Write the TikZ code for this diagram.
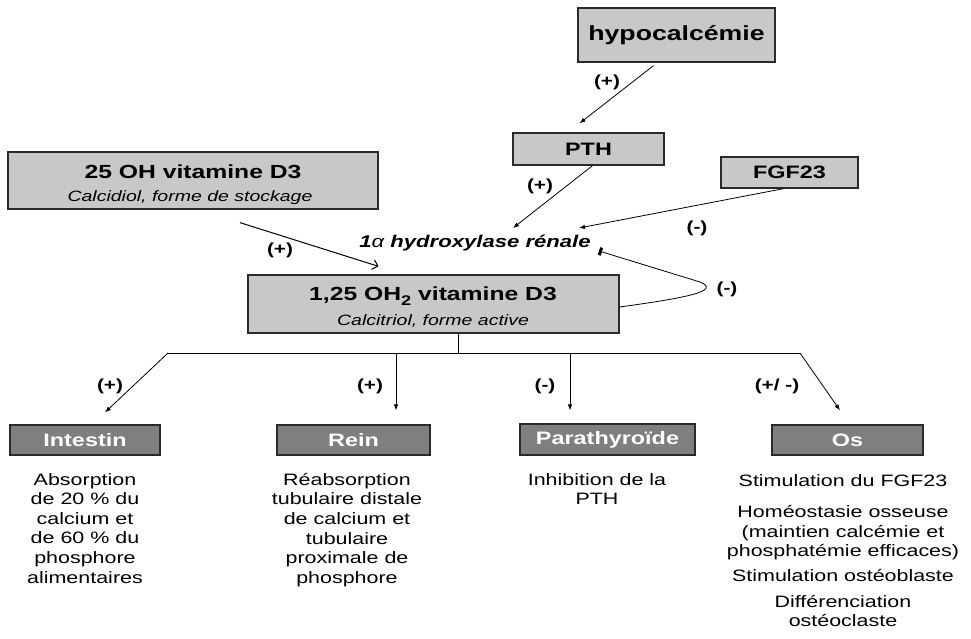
\documentclass[tikz,border=0pt]{standalone}
\usepackage{fontspec}
\setmainfont{Liberation Sans}[FakeStretch=1.3]
\usetikzlibrary{arrows.meta,calc}
\definecolor{boxlight}{HTML}{C8C8C8}
\definecolor{boxdark}{HTML}{7F7F7F}
\definecolor{edge}{HTML}{2A2A2A}
\begin{document}
\begin{tikzpicture}[x=1pt,y=-1pt,
  lightbox/.style={draw=edge, line width=1.3pt, fill=boxlight, inner sep=0pt},
  darkbox/.style={draw=edge, line width=1.2pt, fill=boxdark, inner sep=0pt, text=white,
    font=\fontsize{18}{20}\selectfont\bfseries, minimum height=30pt},
  ttl/.style={font=\fontsize{19}{22}\selectfont\bfseries, inner sep=0pt},
  subtxt/.style={font=\fontsize{15}{18}\selectfont\itshape, inner sep=0pt},
  sgn/.style={font=\fontsize{16}{18}\selectfont\bfseries, inner sep=0pt},
  arr/.style={-{Latex[length=6pt,width=4.5pt]}, line width=0.8pt},
  bottxt/.style={font=\fontsize{16.5}{19.6}\selectfont, align=center, inner sep=0pt}]
\useasboundingbox (0,0) rectangle (971,639);

% top boxes
\node[lightbox, minimum width=197pt, minimum height=54pt,
  font=\fontsize{20.5}{23}\selectfont\bfseries] (hypo) at (676.5,35) {hypocalcémie};
\node[lightbox, minimum width=151pt, minimum height=32pt,
  font=\fontsize{18}{20}\selectfont\bfseries] (pth) at (588.5,149) {PTH};
\node[lightbox, minimum width=137pt, minimum height=31pt,
  font=\fontsize{18}{20}\selectfont\bfseries] (fgf) at (789.5,172.5) {FGF23};

\node[lightbox, minimum width=370pt, minimum height=57pt] (b25) at (193,180.5) {};
\node[ttl] (b25t) at (193,172) {25 OH vitamine D3};
\node[subtxt] (b25s) at (190,198) {Calcidiol, forme de stockage};

\node[lightbox, minimum width=371pt, minimum height=58pt] (b125) at (433.5,304) {};
\node[ttl] (b125t) at (433,296) {1,25 OH\raisebox{-4.5pt}{\fontsize{14}{14}\selectfont 2} vitamine D3};
\node[subtxt] (b125s) at (433,321) {Calcitriol, forme active};

\node[font=\fontsize{17}{20}\selectfont\bfseries\itshape, inner sep=0pt] (enz) at (475,243)
  {1{\mdseries α} hydroxylase rénale};

% coordinates
\coordinate (e1) at (513,228);
\coordinate (e2) at (579,228);
\coordinate (e3) at (599,251);
\coordinate (bend) at (700,282);

% arrows top
\draw[arr] ([xshift=-23pt,yshift=-3pt]hypo.south) -- ([xshift=-9pt,yshift=9pt]pth.north);
\draw[arr] ([xshift=4pt]pth.south) -- (e1);
\draw[arr] ([xshift=-6pt]fgf.south) -- (e2);
\draw[-{Straight Barb[length=5pt,width=10pt]}, line width=1pt]
  ([xshift=47pt,yshift=-13pt]b25.south) -- ([xshift=-55pt,yshift=8pt]b125.north);
\draw[-{Bar[width=8pt,line width=3pt]}, line width=0.8pt]
  ([yshift=-3pt]b125.east) .. controls (685,298) and (722,291) .. (bend) -- (e3);

% signs top
\node[sgn] (s1) at (607,82) {(+)};
\node[sgn] (s2) at (540,186) {(+)};
\node[sgn] (s3) at (697,228) {(-)};
\node[sgn] (s4) at (280,250) {(+)};
\node[sgn] (s5) at (727,289) {(-)};

% bottom boxes
\node[darkbox, minimum width=150pt] (int) at (85,440) {Intestin};
\node[darkbox, minimum width=153pt] (rein) at (353.5,440) {Rein};
\node[darkbox, minimum width=175pt, minimum height=31pt] (para) at (607.5,439.5) {Parathyroïde};
\node[darkbox, minimum width=151pt] (os) at (847.5,440) {Os};

% tree
\coordinate (tr) at (458,353);
\coordinate (hl) at (168,353);
\coordinate (hr) at (800,353);
\coordinate (hre) at (396,353);
\coordinate (hpa) at (570,353);
\draw[line width=0.8pt] ([xshift=24.5pt]b125.south) -- (tr);
\draw[line width=0.8pt] (hl) -- (hr);
\draw[arr] (hl) -- ([xshift=20pt,yshift=12pt]int.north);
\draw[arr] (hre) -- ([xshift=42.5pt,yshift=14pt]rein.north);
\draw[arr] (hpa) -- ([xshift=-37.5pt,yshift=13pt]para.north);
\draw[arr] (hr) -- ([xshift=-7.5pt,yshift=14pt]os.north);

\node[sgn] (s6) at (110,386) {(+)};
\node[sgn] (s7) at (370,386) {(+)};
\node[sgn] (s8) at (545,386) {(-)};
\node[sgn] (s9) at (777,386) {(+/ -)};

% bottom texts
\node[bottxt, anchor=north] (tint) at (85,473)
  {Absorption\\de 20 \% du\\calcium et\\de 60 \% du\\phosphore\\alimentaires};
\node[bottxt, anchor=north] (trein) at (347,473)
  {Réabsorption\\tubulaire distale\\de calcium et\\tubulaire\\proximale de\\phosphore};
\node[bottxt, anchor=north] (tpara) at (597,473) {Inhibition de la\\PTH};
\node[bottxt] (tos1) at (843,481) {Stimulation du FGF23};
\node[bottxt] (tos2) at (843,533) {Homéostasie osseuse\\(maintien calcémie et\\phosphatémie efficaces)};
\node[bottxt] (tos3) at (843,576) {Stimulation ostéoblaste};
\node[bottxt] (tos4) at (843,611) {Différenciation\\ostéoclaste};
\end{tikzpicture}
\end{document}
